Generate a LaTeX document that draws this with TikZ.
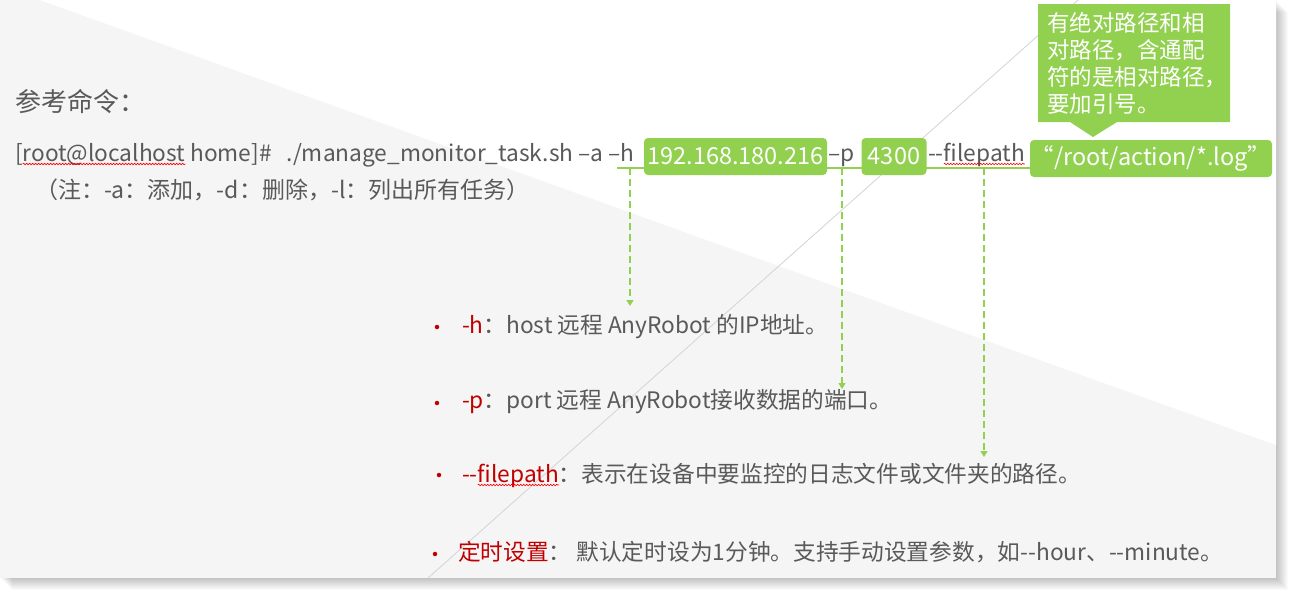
\documentclass[tikz,border=0pt]{standalone}
\usepackage{fontspec}
\newfontfamily\zh{Noto Sans CJK SC}
\usetikzlibrary{arrows.meta,decorations.pathmorphing}
\definecolor{gtxt}{HTML}{595959}
\definecolor{lgreen}{HTML}{92D050}
\definecolor{dred}{HTML}{C00000}
\definecolor{panel}{HTML}{F5F5F5}
\definecolor{diag}{HTML}{D4D4D4}
\newcommand\dd{-\kern0pt-}
\tikzset{
 txt/.style={inner sep=0pt, outer sep=0pt, anchor=base west, text=gtxt, font=\zh\fontsize{22.7}{26}\selectfont},
 rtxt/.style={txt, text=dred},
 wtxt/.style={txt, text=white, font=\zh\fontsize{22.5}{26}\selectfont},
 gbox/.style={fill=lgreen, rounded corners=4pt, inner sep=0pt, text=white, minimum height=37pt, font=\zh\fontsize{23.5}{26}\selectfont},
 uline/.style={draw=lgreen, line width=1.5pt},
 dashlink/.style={draw=lgreen, line width=1.5pt, dash pattern=on 6.5pt off 4.5pt, -{Triangle[width=7pt,length=6pt]}},
 wave/.style={draw=red, line width=0.6pt, decorate, decoration={snake, amplitude=0.8pt, segment length=3pt}},
 bul/.style={circle, fill=dred, inner sep=0pt, minimum size=4.5pt},
}
\begin{document}
\begin{tikzpicture}[x=1pt,y=-1pt]
\useasboundingbox (0,0) rectangle (1296,598);
\fill[white] (0,0) rectangle (1296,598);
\foreach \d in {1,...,12} \fill[black,opacity=0.018] (\d,\d) rectangle (1276+\d,578+\d);
\fill[panel] (0,0) rectangle (1276,578);
\fill[white] (40,0) -- (1276,0) -- (1276,445) -- cycle;
\draw[diag, line width=0.8pt] (428,578) -- (1078,0);

% title and command
\node[txt, font=\zh\fontsize{26}{30}\selectfont] (title) at (15,111) {参考命令：};
\node[txt] (c1) at (15,161) {[};
\node[txt] (c2) at (c1.base east) {root@localhost};
\node[txt] (c3) at (c2.base east) {\ home]\#\hspace{15pt}./manage\_monitor\_task.sh –a –h};
\node[txt] (cp) at (828,161) {–p};
\node[txt] (cf1) at (928,161) {\dd};
\node[txt] (cf2) at (cf1.base east) {filepath};
\node[txt, font=\zh\fontsize{23}{26}\selectfont] (note) at (35,198) {（注：-a：添加，-d：删除，-l：列出所有任务）};

% underlines and links
\coordinate (uh0) at (617,168); \coordinate (uh1) at (646,168);
\coordinate (up0) at (827,168); \coordinate (up1) at (862,168);
\coordinate (uf0) at (923,168); \coordinate (uf1) at (1031,168);
\draw[uline] (uh0) -- (uh1);
\draw[uline] (up0) -- (up1);
\draw[uline] (uf0) -- (uf1);
\coordinate (sh) at (630,168); \coordinate (eh) at (630,306);
\coordinate (sp) at (842,168); \coordinate (ep) at (842,389);
\coordinate (sf) at (984,168); \coordinate (ef) at (984,457);
\draw[dashlink] (sh) -- (eh);
\draw[dashlink] (sp) -- (ep);
\draw[dashlink] (sf) -- (ef);

% green boxes
\node[gbox, minimum width=183pt] (ip) at (735.5,156.5) {192.168.180.216};
\node[gbox, minimum width=65pt] (port) at (894,156.5) {4300};
\node[gbox, minimum width=242pt] (path) at (1151,158.5) {“/root/action/*.log”};

% callout
\fill[lgreen] (1038,4) -- (1230,4) -- (1230,122) -- (1117,122) -- (1093,137) -- (1070,122) -- (1038,122) -- cycle;
\node[wtxt] (t1) at (1047,31) {有绝对路径和相};
\node[wtxt] (t2) at (1047,58) {对路径，含通配};
\node[wtxt] (t3) at (1047,85) {符的是相对路径，};
\node[wtxt] (t4) at (1047,112) {要加引号。};

% bullets
\node[bul] (b1) at (437,327) {};
\node[rtxt] (h1) at (462,333) {-h};
\node[txt] (h2) at (h1.base east) {：host 远程 AnyRobot 的IP地址。};
\node[bul] (b2) at (437,403) {};
\node[rtxt] (p1) at (462,408) {-p};
\node[txt] (p2) at (p1.base east) {：port 远程 AnyRobot接收数据的端口。};
\node[bul] (b3) at (439,475) {};
\node[rtxt] (f1) at (462,482) {\dd};
\node[rtxt] (f2) at (f1.base east) {filepath};
\node[txt] (f3) at (f2.base east) {：表示在设备中要监控的日志文件或文件夹的路径。};
\node[bul] (b4) at (435,554) {};
\node[rtxt] (s1) at (458,560) {定时设置};
\node[txt] (s2) at (s1.base east) {： 默认定时设为1分钟。支持手动设置参数，如\dd hour、\dd minute。};

% spell-check waves
\draw[wave] ([yshift=-3pt]c2.base west) -- ([yshift=-3pt]c2.base east);
\draw[wave] ([yshift=-3pt]cf2.base west) -- ([yshift=-3pt]cf2.base east);
\draw[wave] ([yshift=-3pt]f2.base west) -- ([yshift=-3pt]f2.base east);
\end{tikzpicture}
\end{document}
